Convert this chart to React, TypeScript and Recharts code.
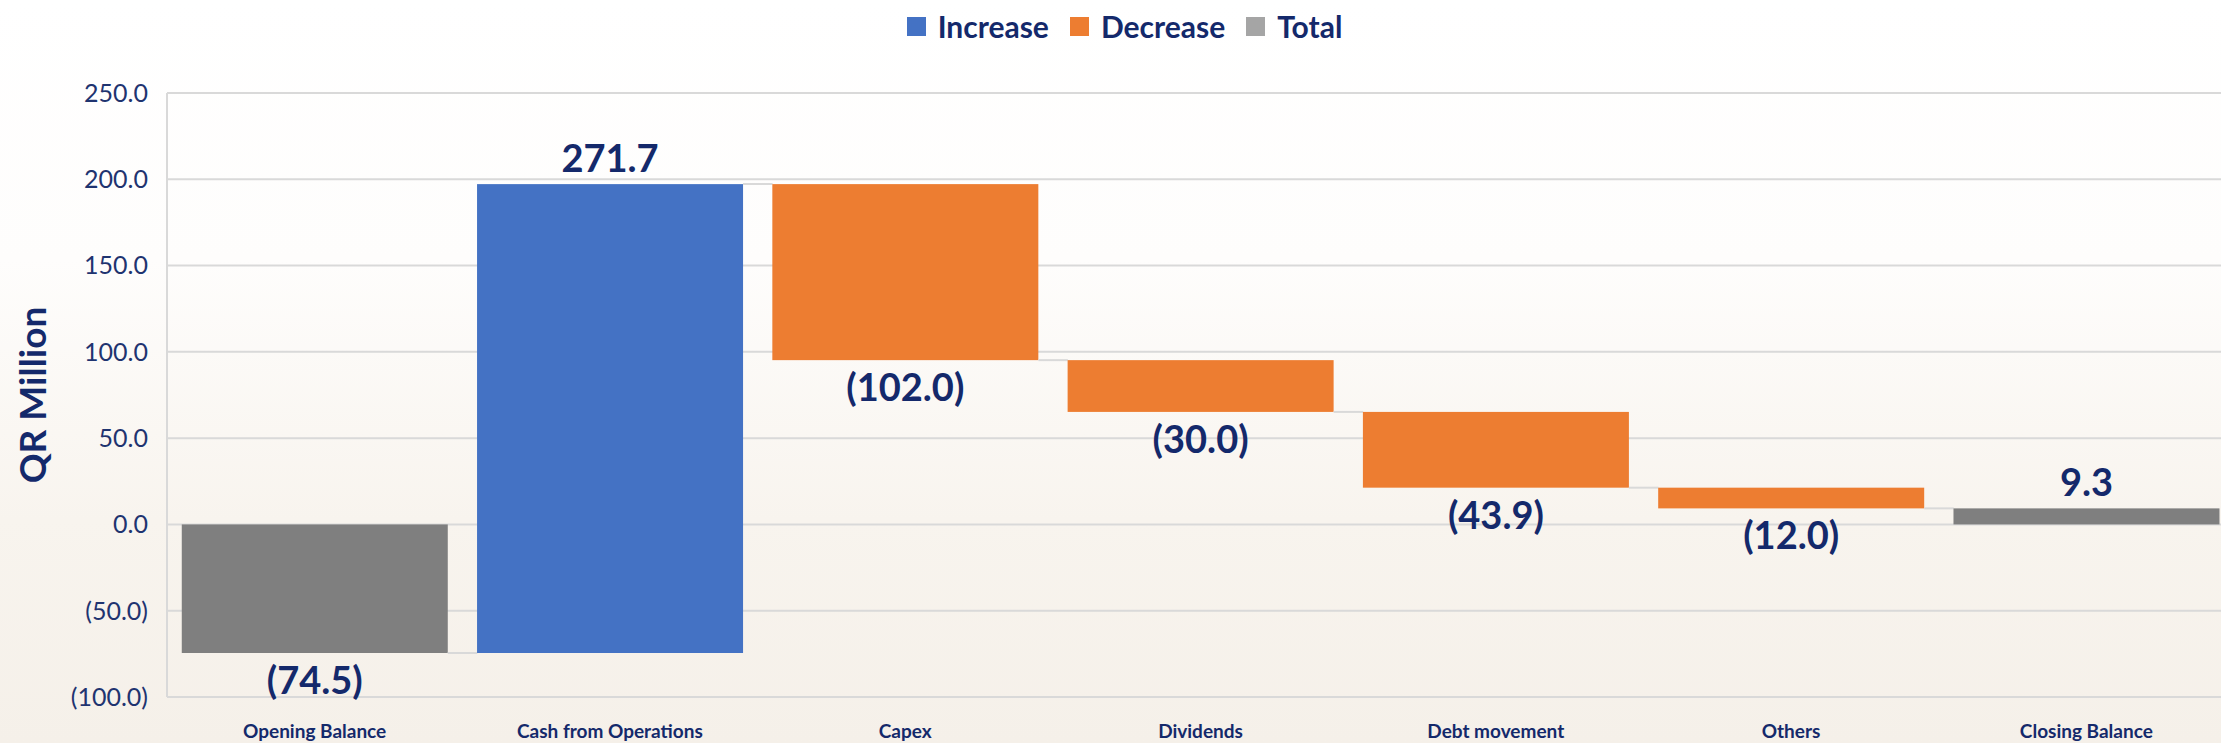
import React from 'react';
import {
  BarChart,
  Bar,
  XAxis,
  YAxis,
  CartesianGrid,
  Legend,
  Cell,
  LabelList,
} from 'recharts';

const categories = [
  'Opening Balance',
  'Cash from Operations',
  'Capex',
  'Dividends',
  'Debt movement',
  'Others',
  'Closing Balance',
];
const amounts = [-74.5, 271.7, -102.0, -30.0, -43.9, -12.0, 9.3];
const kinds = ['total', 'increase', 'decrease', 'decrease', 'decrease', 'decrease', 'total'];
const yTicks = [-100, -50, 0, 50, 100, 150, 200, 250];
const legendLabels = ['Increase', 'Decrease', 'Total'];
const legendKinds = ['increase', 'decrease', 'total'];

const COLORS = {
  increase: '#4472C4',
  decrease: '#ED7D31',
  total: '#7F7F7F',
};
const LEGEND_COLORS = {
  increase: '#4472C4',
  decrease: '#ED7D31',
  total: '#A5A5A5',
};
const NAVY = '#14296b';
const GRID = '#d9d9d9';

// running waterfall levels
let running = 0;
const data = categories.map((name, i) => {
  const v = amounts[i];
  const kind = kinds[i];
  const start = kind === 'total' ? 0 : running;
  const end = kind === 'total' ? v : running + v;
  running = end;
  return {
    name,
    amount: v,
    kind,
    range: [Math.min(start, end), Math.max(start, end)],
    level: end,
  };
});

const fmt = (v: number) => (v < 0 ? `(${Math.abs(v).toFixed(1)})` : v.toFixed(1));

const WaterfallBar = (props: any) => {
  const { x, y, width, height, payload, index, fill } = props;
  const [lo, hi] = payload.range;
  const levelY = hi === lo ? y : y + ((hi - payload.level) * height) / (hi - lo);
  const gap = width / 9;
  return (
    <g>
      <rect x={x} y={y} width={width} height={height} fill={fill} />
      {index < data.length - 1 && (
        <line
          x1={x + width}
          x2={x + width + gap}
          y1={levelY}
          y2={levelY}
          stroke={GRID}
          strokeWidth={2}
        />
      )}
    </g>
  );
};

const renderValueLabel = (props: any) => {
  const { x, y, width, height, index } = props;
  const d = data[index];
  const cx = x + width / 2;
  const below = d.amount < 0;
  const ty = below ? y + height + 41 : y - 12;
  return (
    <text
      x={cx}
      y={ty}
      textAnchor="middle"
      fill={NAVY}
      fontFamily="Lato"
      fontWeight="bold"
      fontSize={38}
    >
      {fmt(d.amount)}
    </text>
  );
};

const XTick = (props: any) => {
  const { x, y, payload } = props;
  return (
    <text
      x={x}
      y={y + 41}
      textAnchor="middle"
      fill={NAVY}
      fontFamily="Lato"
      fontWeight="bold"
      fontSize={19}
    >
      {payload.value}
    </text>
  );
};

const renderLegend = () => (
  <div
    style={{
      height: 93,
      display: 'flex',
      justifyContent: 'center',
      alignItems: 'flex-start',
      paddingLeft: 36,
      boxSizing: 'border-box',
      paddingTop: 11,
    }}
  >
    {legendLabels.map((label, i) => (
      <div
        key={label}
        style={{ display: 'flex', alignItems: 'center', marginRight: 21, height: 30 }}
      >
        <span
          style={{
            width: 19,
            height: 19,
            background: LEGEND_COLORS[legendKinds[i]],
            display: 'inline-block',
            marginRight: 12,
          }}
        />
        <span
          style={{
            fontFamily: 'Lato',
            fontWeight: 'bold',
            fontSize: 30,
            color: NAVY,
            lineHeight: '30px',
          }}
        >
          {label}
        </span>
      </div>
    ))}
  </div>
);

const renderAxisTitle = (props: any) => {
  const { viewBox } = props;
  const cx = viewBox.x + 31;
  const cy = viewBox.y + viewBox.height / 2;
  return (
    <text
      x={cx}
      y={cy}
      transform={`rotate(-90, ${cx}, ${cy})`}
      textAnchor="middle"
      dominantBaseline="central"
      fill={NAVY}
      fontFamily="Lato"
      fontWeight="bold"
      fontSize={37}
    >
      QR Million
    </text>
  );
};

const App: React.FC = () => {
  return (
    <div
      style={{
        position: 'fixed',
        top: 0,
        left: 0,
        width: 2221,
        height: 743,
        overflow: 'hidden',
        background: 'linear-gradient(180deg, #ffffff 0%, #fefdfc 35%, #f8f4ee 70%, #f5f0e9 100%)',
      }}
    >
      <BarChart
        width={2234}
        height={743}
        data={data}
        margin={{ top: 0, right: 0, bottom: 0, left: 0 }}
        barCategoryGap="5%"
      >
        <CartesianGrid vertical={false} stroke={GRID} strokeWidth={2} />
        <XAxis
          dataKey="name"
          height={46}
          axisLine={false}
          tickLine={false}
          tickSize={0}
          tickMargin={0}
          interval={0}
          tick={<XTick />}
        />
        <YAxis
          width={167}
          domain={[-100, 250]}
          ticks={yTicks}
          allowDataOverflow
          tickFormatter={fmt}
          axisLine={{ stroke: GRID, strokeWidth: 2 }}
          tickLine={false}
          tickSize={0}
          tickMargin={19}
          tick={{ fill: '#1f3470', fontFamily: 'Lato', fontSize: 25 }}
          label={{ content: renderAxisTitle }}
        />
        <Legend verticalAlign="top" content={renderLegend} wrapperStyle={{ top: 0, left: 0, width: 2234 }} />
        <Bar dataKey="range" shape={<WaterfallBar />} isAnimationActive={false} legendType="none">
          {data.map((d) => (
            <Cell key={d.name} fill={COLORS[d.kind]} />
          ))}
          <LabelList dataKey="amount" content={renderValueLabel} />
        </Bar>
      </BarChart>
    </div>
  );
};

export default App;
